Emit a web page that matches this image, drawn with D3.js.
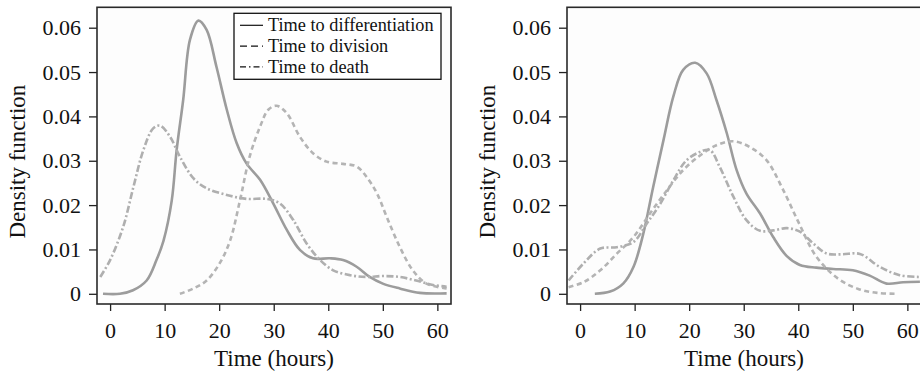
<!DOCTYPE html>
<html>
<head>
<meta charset="utf-8">
<script src="https://d3js.org/d3.v7.min.js"></script>
<style>
  body { margin: 0; background: #fff; }
</style>
</head>
<body>
<div id="chart"></div>
<script>
// tick values
var timeTicks = [0, 10, 20, 30, 40, 50, 60];
var densityTicks = [0, 0.01, 0.02, 0.03, 0.04, 0.05, 0.06];
var seriesNames = ["Time to differentiation", "Time to division", "Time to death"];

// left panel curves, [hours, density]
var leftDifferentiation = [[-1.3,0],[1.8,0],[4.2,0.0008],[6.7,0.003],[8.5,0.0076],[9.8,0.012],[11.3,0.021],[12.2,0.0324],[13.4,0.0437],[14.65,0.0573],[16.2,0.0616],[17.7,0.0595],[19.5,0.0512],[21.4,0.0415],[23.2,0.034],[25,0.0294],[27.5,0.0257],[29.9,0.0204],[32.4,0.0144],[34.8,0.0099],[37.2,0.008],[40.3,0.008],[42.7,0.0076],[45.2,0.0061],[47.6,0.0038],[50,0.0023],[53.1,0.0012],[56.8,0.0002],[61.7,0.0001]];
var leftDivision = [[12.8,0],[15.3,0.0012],[17.7,0.003],[20.1,0.0069],[22,0.012],[23.8,0.021],[25.6,0.031],[27.5,0.0377],[29,0.0415],[30.5,0.0424],[32.4,0.0407],[34.8,0.0354],[37.2,0.0317],[39.7,0.0298],[42.7,0.0293],[45.2,0.0287],[47,0.0264],[48.9,0.0227],[50.7,0.0174],[53.1,0.0106],[55.5,0.0053],[58,0.0023],[61.7,0.0012]];
var leftDeath = [[-1.8,0.0038],[0,0.0076],[2.4,0.0151],[4.3,0.0242],[6.1,0.0324],[7.9,0.0373],[9.2,0.0379],[11,0.0354],[12.8,0.0309],[15.3,0.026],[17.7,0.0238],[21.4,0.0223],[25,0.0214],[28.7,0.0214],[31.1,0.0204],[33.6,0.0166],[36,0.0114],[38.5,0.0076],[40.9,0.0053],[44,0.0042],[47,0.0038],[50,0.004],[53.1,0.0038],[56.1,0.003],[59.2,0.002],[61.7,0.0016]];

// right panel curves
var rightDifferentiation = [[2.7,0],[5.5,0.0005],[7.9,0.0023],[9.8,0.0061],[11.6,0.0136],[13.4,0.0241],[15.3,0.0347],[17.1,0.0445],[18.9,0.0505],[21.1,0.0521],[23.2,0.0497],[25,0.0437],[26.9,0.0362],[28.7,0.0279],[30.5,0.0226],[33,0.0181],[35.4,0.0128],[37.9,0.0085],[40.3,0.0065],[43.3,0.0059],[46.4,0.0056],[50,0.0053],[53.1,0.0041],[56.2,0.0023],[59.2,0.0026],[62.3,0.0027]];
var rightDivision = [[-2.1,0.0015],[0.6,0.0026],[3.7,0.0053],[6.7,0.009],[9.8,0.0128],[12.8,0.0181],[15.9,0.0233],[18.9,0.0279],[22,0.0312],[25,0.0335],[28.1,0.0344],[31.1,0.0331],[34.2,0.0301],[37,0.0240],[40.1,0.0160],[43.3,0.0084],[47.3,0.0034],[51,0.0011],[54.5,0.0002],[58,0]];
var rightDeath = [[-2.1,0.003],[0.6,0.0068],[3.7,0.0102],[6.7,0.0105],[9.8,0.0117],[12.2,0.0158],[14.7,0.0203],[17.1,0.0256],[19.5,0.0301],[22,0.032],[23.8,0.0324],[25.6,0.0286],[28.1,0.0219],[30.5,0.0166],[33,0.0142],[35.4,0.0143],[37.9,0.0148],[40.3,0.014],[42.7,0.0114],[45.2,0.0091],[48,0.0089],[51.3,0.0090],[54.9,0.0061],[58.6,0.0042],[62.3,0.0038]];

var serif = "Liberation Serif, serif";

var svg = d3.select("#chart").append("svg")
    .attr("width", 920)
    .attr("height", 374)
    .attr("font-family", serif);

var defs = svg.append("defs");
defs.append("filter").attr("id", "soft")
    .append("feGaussianBlur").attr("stdDeviation", 0.6);

var plotW = 354, plotH = 296.7;

var styles = [
  {color: "#9c9c9c", dash: null},
  {color: "#b4b4b4", dash: "5,3.5"},
  {color: "#afafaf", dash: "7,2.5,2,2.5"}
];

function drawPanel(left, top, curves, withLegend, id) {
  var g = svg.append("g").attr("transform", "translate(" + left + "," + top + ")");

  var x = d3.scaleLinear().domain([-2.4, 62.5]).range([0, plotW]);
  var y = d3.scaleLinear().domain([-0.0023, 0.0646]).range([plotH, 0]);

  defs.append("clipPath").attr("id", "clip" + id)
    .append("rect").attr("width", plotW).attr("height", plotH);

  g.append("rect")
    .attr("width", plotW).attr("height", plotH)
    .attr("fill", "#fdfdfd");

  // y axis
  var yAxis = g.append("g")
    .call(d3.axisLeft(y).tickValues(densityTicks).tickSize(8).tickPadding(8)
      .tickFormat(function(d) { return d === 0 ? "0" : d3.format(".2f")(d); }));
  yAxis.attr("font-family", serif);
  yAxis.select(".domain").remove();
  yAxis.selectAll("line").attr("stroke", "#222").attr("stroke-width", 1.3);
  yAxis.selectAll("text").attr("font-size", 22).attr("fill", "#111");

  // x axis
  var xAxis = g.append("g")
    .attr("transform", "translate(0," + plotH + ")")
    .call(d3.axisBottom(x).tickValues(timeTicks).tickSize(7).tickPadding(11));
  xAxis.attr("font-family", serif);
  xAxis.select(".domain").remove();
  xAxis.selectAll("line").attr("stroke", "#222").attr("stroke-width", 1.3);
  xAxis.selectAll("text").attr("font-size", 22).attr("fill", "#111");

  var line = d3.line()
    .x(function(d) { return x(d[0]); })
    .y(function(d) { return y(d[1]); })
    .curve(d3.curveCatmullRom.alpha(0.5));

  var cg = g.append("g").attr("clip-path", "url(#clip" + id + ")");
  curves.forEach(function(c, i) {
    cg.append("path")
      .datum(c)
      .attr("d", line)
      .attr("fill", "none")
      .attr("stroke", styles[i].color)
      .attr("stroke-width", 2.6)
      .attr("stroke-dasharray", styles[i].dash)
      .attr("filter", "url(#soft)");
  });

  // frame
  g.append("rect")
    .attr("width", plotW).attr("height", plotH)
    .attr("fill", "none").attr("stroke", "#2a2a2a").attr("stroke-width", 1.6);

  g.append("text")
    .attr("x", plotW / 2).attr("y", 359)
    .attr("text-anchor", "middle").attr("font-size", 23).attr("fill", "#111")
    .text("Time (hours)");

  g.append("text")
    .attr("transform", "translate(-72," + (plotH / 2 + 6) + ") rotate(-90)")
    .attr("text-anchor", "middle").attr("font-size", 23).attr("fill", "#111")
    .text("Density function");

  if (withLegend) {
    var lg = g.append("g").attr("transform", "translate(137,6)");
    lg.append("rect").attr("width", 207).attr("height", 66)
      .attr("fill", "#fff").attr("stroke", "#111").attr("stroke-width", 1.3);
    seriesNames.forEach(function(name, i) {
      var yy = 12 + i * 20.8;
      lg.append("line")
        .attr("x1", 6).attr("x2", 29).attr("y1", yy).attr("y2", yy)
        .attr("stroke", "#111").attr("stroke-width", 1.2)
        .attr("stroke-dasharray", i === 0 ? null : (i === 1 ? "7,4" : "6,3,1.5,3"));
      lg.append("text")
        .attr("x", 34).attr("y", yy + 6)
        .attr("font-size", 18.3).attr("fill", "#111")
        .text(name);
    });
  }
}

drawPanel(97, 7.3, [leftDifferentiation, leftDivision, leftDeath], true, "L");
drawPanel(567, 7.3, [rightDifferentiation, rightDivision, rightDeath], false, "R");
</script>
</body>
</html>
